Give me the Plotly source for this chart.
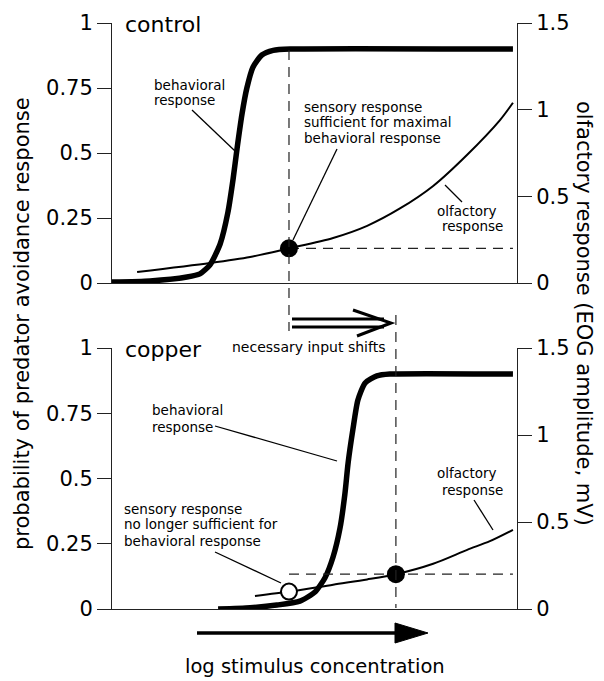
import plotly.graph_objects as go

# ---------------- data (x = log stimulus concentration, arbitrary units 0-10) ----------------
# control panel
control_behav_x = [0.0, 0.94, 1.85, 2.17, 2.42, 2.67, 2.86, 2.99, 3.09, 3.21, 3.33, 3.48, 3.70, 3.98, 4.40, 9.90]
control_behav_y = [0.004, 0.008, 0.023, 0.035, 0.07, 0.15, 0.27, 0.40, 0.52, 0.65, 0.75, 0.83, 0.877, 0.895, 0.9, 0.9]
control_olf_x = [0.62, 2.42, 3.41, 4.37, 5.46, 6.30, 7.11, 7.93, 8.77, 9.58, 9.90]
control_olf_y = [0.063, 0.115, 0.15, 0.20, 0.26, 0.33, 0.43, 0.56, 0.74, 0.94, 1.04]
control_mark_x = [4.37]
control_mark_y = [0.20]

# copper panel
copper_behav_x = [2.62, 3.41, 4.07, 4.64, 5.01, 5.26, 5.46, 5.63, 5.75, 5.83, 5.95, 6.07, 6.25, 6.54, 6.86, 9.90]
copper_behav_y = [0.0, 0.005, 0.015, 0.03, 0.065, 0.12, 0.20, 0.31, 0.44, 0.56, 0.69, 0.80, 0.866, 0.893, 0.9, 0.9]
copper_olf_x = [3.53, 4.40, 5.46, 6.30, 7.01, 7.93, 8.77, 9.33, 9.90]
copper_olf_y = [0.075, 0.10, 0.14, 0.17, 0.20, 0.26, 0.34, 0.39, 0.455]
copper_open_x = [4.37]
copper_open_y = [0.10]
copper_mark_x = [7.01]
copper_mark_y = [0.20]

x_end = 9.90
left_ticks = [0, 0.25, 0.5, 0.75, 1]
left_ticktext = ["0", "0.25", "0.5", "0.75", "1"]
right_ticks = [0, 0.5, 1, 1.5]
right_ticktext = ["0", "0.5", "1", "1.5"]

FONT = "DejaVu Sans"
OFF = 8                      # default body margin of the html page
W, H = 604 - OFF, 681 - OFF
PL, PR, PT, PB = 112, 517, 23, 609   # plot area in page pixels
ML, MR, MT, MB = PL - OFF, 604 - PR, PT - OFF, 681 - PB


def PX(px):
    return (px - PL) / (PR - PL)


def PY(py):
    return (PB - py) / (PB - PT)


fig = go.Figure()

bold = dict(color="black", width=5.5, shape="spline", smoothing=0.6)
thin = dict(color="black", width=2, shape="spline", smoothing=0.8)
dash = dict(color="#222", width=1.2, dash="10px,7px")

# control
fig.add_trace(go.Scatter(x=control_behav_x, y=control_behav_y, mode="lines", line=bold,
                         xaxis="x", yaxis="y"))
fig.add_trace(go.Scatter(x=control_olf_x, y=control_olf_y, mode="lines", line=thin,
                         xaxis="x", yaxis="y3"))
fig.add_trace(go.Scatter(x=[control_mark_x[0], x_end], y=[control_mark_y[0]] * 2, mode="lines",
                         line=dash, xaxis="x", yaxis="y3"))
fig.add_trace(go.Scatter(x=control_mark_x, y=control_mark_y, mode="markers",
                         marker=dict(size=18, color="black"), cliponaxis=False,
                         xaxis="x", yaxis="y3"))

# copper
fig.add_trace(go.Scatter(x=copper_behav_x, y=copper_behav_y, mode="lines", line=bold,
                         xaxis="x2", yaxis="y2"))
fig.add_trace(go.Scatter(x=copper_olf_x, y=copper_olf_y, mode="lines", line=thin,
                         xaxis="x2", yaxis="y4"))
fig.add_trace(go.Scatter(x=[copper_open_x[0], x_end], y=[copper_mark_y[0]] * 2, mode="lines",
                         line=dash, xaxis="x2", yaxis="y4"))
fig.add_trace(go.Scatter(x=copper_mark_x, y=copper_mark_y, mode="markers",
                         marker=dict(size=18, color="black"), cliponaxis=False,
                         xaxis="x2", yaxis="y4"))
fig.add_trace(go.Scatter(x=copper_open_x, y=copper_open_y, mode="markers",
                         marker=dict(size=16, color="white", line=dict(color="black", width=2)),
                         cliponaxis=False, xaxis="x2", yaxis="y4"))

axc = dict(showline=True, linecolor="#222", linewidth=1, showgrid=False, zeroline=False,
           ticks="outside", ticklen=14, tickcolor="#222", tickwidth=1,
           tickfont=dict(size=21, family=FONT, color="black"), automargin=False, fixedrange=True)
xax = dict(showline=True, linecolor="#222", linewidth=1, showgrid=False, zeroline=False,
           ticks="", showticklabels=False, range=[0, 10], automargin=False, fixedrange=True)

top_dom = [PY(283), 1.0]
bot_dom = [0.0, PY(348)]

fig.update_layout(
    width=W, height=H, template="none", showlegend=False,
    paper_bgcolor="white", plot_bgcolor="white",
    margin=dict(l=ML, r=MR, t=MT, b=MB, autoexpand=False),
    font=dict(family=FONT, color="black"),
    xaxis=dict(xax, anchor="y", domain=[0, 1]),
    xaxis2=dict(xax, anchor="y2", domain=[0, 1]),
    yaxis=dict(axc, anchor="x", domain=top_dom, range=[0, 1], tickvals=left_ticks, ticktext=left_ticktext),
    yaxis3=dict(axc, anchor="x", overlaying="y", side="right", range=[0, 1.5],
                tickvals=right_ticks, ticktext=right_ticktext),
    yaxis2=dict(axc, anchor="x2", domain=bot_dom, range=[0, 1], tickvals=left_ticks, ticktext=left_ticktext),
    yaxis4=dict(axc, anchor="x2", overlaying="y2", side="right", range=[0, 1.5],
                tickvals=right_ticks, ticktext=right_ticktext),
)

shapes = []
# vertical dashed guides
shapes.append(dict(type="line", xref="x", yref="paper", x0=control_mark_x[0], x1=control_mark_x[0],
                   y0=PY(50), y1=PY(331), line=dash))
shapes.append(dict(type="line", xref="x2", yref="paper", x0=copper_mark_x[0], x1=copper_mark_x[0],
                   y0=PY(315), y1=PY(608), line=dash))
# leader lines
leaders = [((192, 110), (235, 151)), ((337, 149), (293, 240)), ((445, 185), (462, 202)),
           ((215, 426), (337, 461)), ((215, 552), (281, 583)), ((474, 500), (493, 530))]
for (a, b) in leaders:
    shapes.append(dict(type="line", xref="paper", yref="paper", x0=PX(a[0]), y0=PY(a[1]),
                       x1=PX(b[0]), y1=PY(b[1]), line=dict(color="black", width=1.3)))
# double arrow (necessary input shifts)
for yy in (319, 327):
    shapes.append(dict(type="line", xref="paper", yref="paper", x0=PX(292), y0=PY(yy),
                       x1=PX(384), y1=PY(yy), line=dict(color="black", width=3)))
shapes.append(dict(type="path", xref="paper", yref="paper",
                   path=f"M {PX(353)} {PY(310)} L {PX(391)} {PY(323)} L {PX(357)} {PY(336)}",
                   line=dict(color="black", width=3)))
# big stimulus arrow
shapes.append(dict(type="line", xref="paper", yref="paper", x0=PX(197), y0=PY(633),
                   x1=PX(400), y1=PY(633), line=dict(color="black", width=3.5)))
shapes.append(dict(type="path", xref="paper", yref="paper",
                   path=f"M {PX(395)} {PY(623)} L {PX(428)} {PY(633)} L {PX(395)} {PY(643)} Z",
                   fillcolor="black", line=dict(color="black", width=1)))
fig.update_layout(shapes=shapes)

ann = []


def txt(text, px, py, size=13.5, xanchor="left", angle=0):
    ann.append(dict(text=text, x=PX(px), y=PY(py), xref="paper", yref="paper", showarrow=False,
                    xanchor=xanchor, yanchor="middle", textangle=angle,
                    font=dict(size=size, family=FONT, color="black")))


txt("control", 123, 24, size=22)
txt("copper", 123, 349, size=22)
txt("behavioral", 152, 85)
txt("response", 152, 100)
txt("sensory response", 302, 107)
txt("sufficient for maximal", 302, 122)
txt("behavioral response", 302, 138)
txt("olfactory", 435, 211)
txt("response", 440, 226)
txt("necessary input shifts", 230, 347, size=14)
txt("behavioral", 150, 410)
txt("response", 150, 427)
txt("sensory response", 122, 509)
txt("no longer sufficient for", 122, 524)
txt("behavioral response", 122, 541)
txt("olfactory", 435, 473)
txt("response", 440, 490)
txt("log stimulus concentration", 315, 666, size=19.5, xanchor="center")
txt("probability of predator avoidance response", 22, 324, size=21, xanchor="center", angle=-90)
txt("olfactory response (EOG amplitude, mV)", 584, 313, size=21, xanchor="center", angle=90)
fig.update_layout(annotations=ann)

fig.write_html("out.html", config={"displayModeBar": False})
